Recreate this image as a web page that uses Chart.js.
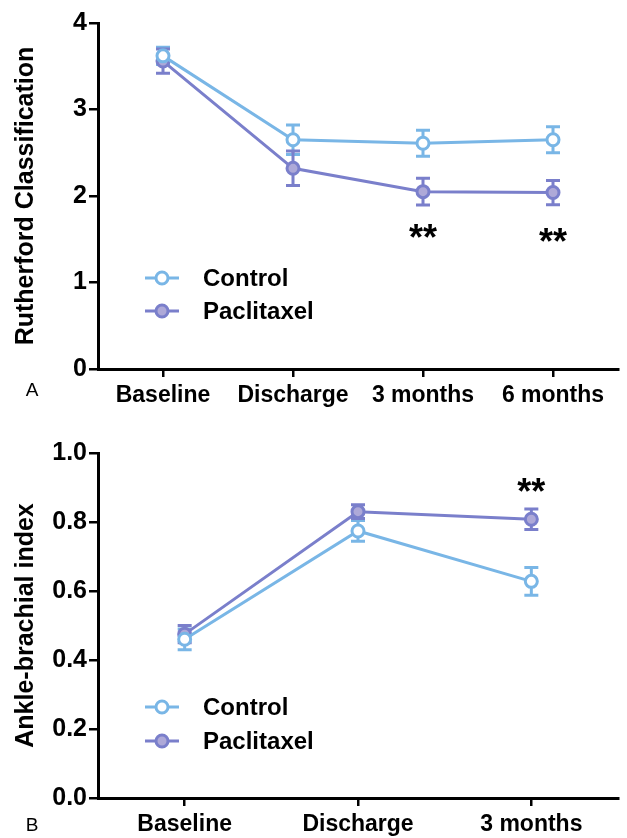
<!DOCTYPE html>
<html>
<head>
<meta charset="utf-8">
<script src="https://cdn.jsdelivr.net/npm/chart.js@4/dist/chart.umd.min.js"></script>
<style>
  body { margin: 0; background: #ffffff; width: 627px; height: 838px; overflow: hidden; }
  .panel { position: absolute; left: 0; width: 627px; }
  #panelA { top: 0; height: 420px; }
  #panelB { top: 420px; height: 418px; }
</style>
</head>
<body>
<div class="panel" id="panelA"><canvas id="chartA" width="627" height="420"></canvas></div>
<div class="panel" id="panelB"><canvas id="chartB" width="627" height="418"></canvas></div>
<script>
const seriesNames = ["Control", "Paclitaxel"];

// Panel A: Rutherford classification
const rcLabels = ["Baseline", "Discharge", "3 months", "6 months"];
const rcControl = [3.62, 2.65, 2.61, 2.65];
const rcControlErr = [0.1, 0.17, 0.15, 0.15];
const rcPaclitaxel = [3.56, 2.32, 2.05, 2.04];
const rcPaclitaxelErr = [0.14, 0.2, 0.155, 0.14];
const rcStarLabels = ["3 months", "6 months"];
const rcStarValues = [1.6, 1.55];

// Panel B: ankle-brachial index
const abiLabels = ["Baseline", "Discharge", "3 months"];
const abiControl = [0.46, 0.774, 0.628];
const abiControlErr = [0.03, 0.03, 0.04];
const abiPaclitaxel = [0.475, 0.83, 0.808];
const abiPaclitaxelErr = [0.025, 0.02, 0.03];
const abiStarLabels = ["3 months"];
const abiStarValues = [0.907];

const FONT = "'Liberation Sans', Arial, Helvetica, sans-serif";
const CONTROL_LINE = "#79b6e6";
const PAC_LINE = "#7a7fcb";
const PAC_FILL = "#aea9d8";

// error bars, stars, legend, panel letter
const extras = {
  id: "extras",
  beforeDatasetsDraw(chart, args, opts) {
    const ctx = chart.ctx;
    const x = chart.scales.x;
    const y = chart.scales.y;
    ctx.save();
    ctx.lineWidth = 3;
    chart.data.datasets.forEach(ds => {
      ctx.strokeStyle = ds.borderColor;
      ds.data.forEach((v, i) => {
        const px = x.getPixelForValue(i);
        const top = y.getPixelForValue(v + ds.errors[i]);
        const bot = y.getPixelForValue(v - ds.errors[i]);
        ctx.beginPath();
        ctx.moveTo(px, top);
        ctx.lineTo(px, bot);
        ctx.moveTo(px - 7, top);
        ctx.lineTo(px + 7, top);
        ctx.moveTo(px - 7, bot);
        ctx.lineTo(px + 7, bot);
        ctx.stroke();
      });
    });
    ctx.restore();
  },
  afterDraw(chart, args, opts) {
    const ctx = chart.ctx;
    const x = chart.scales.x;
    const y = chart.scales.y;
    ctx.save();
    // significance stars
    ctx.fillStyle = "#000";
    ctx.textAlign = "center";
    ctx.textBaseline = "alphabetic";
    ctx.font = "bold 36px " + FONT;
    opts.starLabels.forEach((lab, i) => {
      const px = x.getPixelForValue(chart.data.labels.indexOf(lab));
      const py = y.getPixelForValue(opts.starValues[i]);
      ctx.fillText("**", px, py + 19);
    });
    // legend
    chart.data.datasets.forEach((ds, i) => {
      const ly = opts.legendY[i];
      ctx.strokeStyle = ds.borderColor;
      ctx.lineWidth = 3;
      ctx.beginPath();
      ctx.moveTo(145, ly);
      ctx.lineTo(179, ly);
      ctx.stroke();
      ctx.beginPath();
      ctx.arc(162, ly, 6, 0, Math.PI * 2);
      ctx.fillStyle = ds.pointBackgroundColor;
      ctx.fill();
      ctx.stroke();
      ctx.fillStyle = "#000";
      ctx.textAlign = "left";
      ctx.textBaseline = "middle";
      ctx.font = "bold 24px " + FONT;
      ctx.fillText(ds.label, 203, ly + 1);
    });
    // panel letter
    ctx.font = "19px " + FONT;
    ctx.textAlign = "center";
    ctx.textBaseline = "middle";
    ctx.fillText(opts.letter, 32, opts.letterY);
    ctx.restore();
  }
};

function makeDataset(name, values, errors, line, fill) {
  return {
    label: name,
    data: values,
    errors: errors,
    borderColor: line,
    backgroundColor: fill,
    pointBackgroundColor: fill,
    pointBorderColor: line,
    pointBorderWidth: 3,
    pointRadius: 6,
    borderWidth: 3,
    tension: 0
  };
}

function buildChart(canvasId, labels, datasets, yCfg, layout, extraOpts) {
  return new Chart(document.getElementById(canvasId), {
    type: "line",
    data: { labels, datasets },
    plugins: [extras],
    options: {
      responsive: false,
      devicePixelRatio: 1,
      animation: false,
      layout: { padding: { top: layout.top, right: layout.right, left: 0, bottom: 0 } },
      plugins: {
        legend: { display: false },
        tooltip: { enabled: false },
        extras: extraOpts
      },
      scales: {
        x: {
          type: "category",
          offset: true,
          afterFit: s => { s.height = layout.xHeight; },
          grid: { drawOnChartArea: false, drawTicks: true, tickLength: 8, color: "#000", lineWidth: 2.5 },
          border: { color: "#000", width: 3 },
          ticks: { color: "#000", padding: 5, font: { family: FONT, size: 23, weight: "bold" } }
        },
        y: {
          min: yCfg.min,
          max: yCfg.max,
          afterFit: s => { s.width = 98; },
          grid: { drawOnChartArea: false, drawTicks: true, tickLength: 9, color: "#000", lineWidth: 2.5 },
          border: { color: "#000", width: 3 },
          ticks: {
            stepSize: yCfg.step,
            color: "#000",
            padding: 2,
            font: { family: FONT, size: 25, weight: "bold" },
            callback: yCfg.format
          },
          title: {
            display: true,
            text: yCfg.title,
            color: "#000",
            font: { family: FONT, size: 25, weight: "bold", lineHeight: 1 },
            padding: { top: 14, bottom: 0 }
          }
        }
      }
    }
  });
}

buildChart("chartA", rcLabels, [
  makeDataset(seriesNames[0], rcControl, rcControlErr, CONTROL_LINE, "#ffffff"),
  makeDataset(seriesNames[1], rcPaclitaxel, rcPaclitaxelErr, PAC_LINE, PAC_FILL)
], { min: 0, max: 4, step: 1, title: "Rutherford Classification", format: v => v },
  { top: 23, right: 7, xHeight: 51 },
  { starLabels: rcStarLabels, starValues: rcStarValues, legendY: [278, 311], letter: "A", letterY: 391 });

buildChart("chartB", abiLabels, [
  makeDataset(seriesNames[0], abiControl, abiControlErr, CONTROL_LINE, "#ffffff"),
  makeDataset(seriesNames[1], abiPaclitaxel, abiPaclitaxelErr, PAC_LINE, PAC_FILL)
], { min: 0, max: 1, step: 0.2, title: "Ankle-brachial index", format: v => v.toFixed(1) },
  { top: 33, right: 6, xHeight: 40 },
  { starLabels: abiStarLabels, starValues: abiStarValues, legendY: [287, 321], letter: "B", letterY: 406 });
</script>
</body>
</html>
